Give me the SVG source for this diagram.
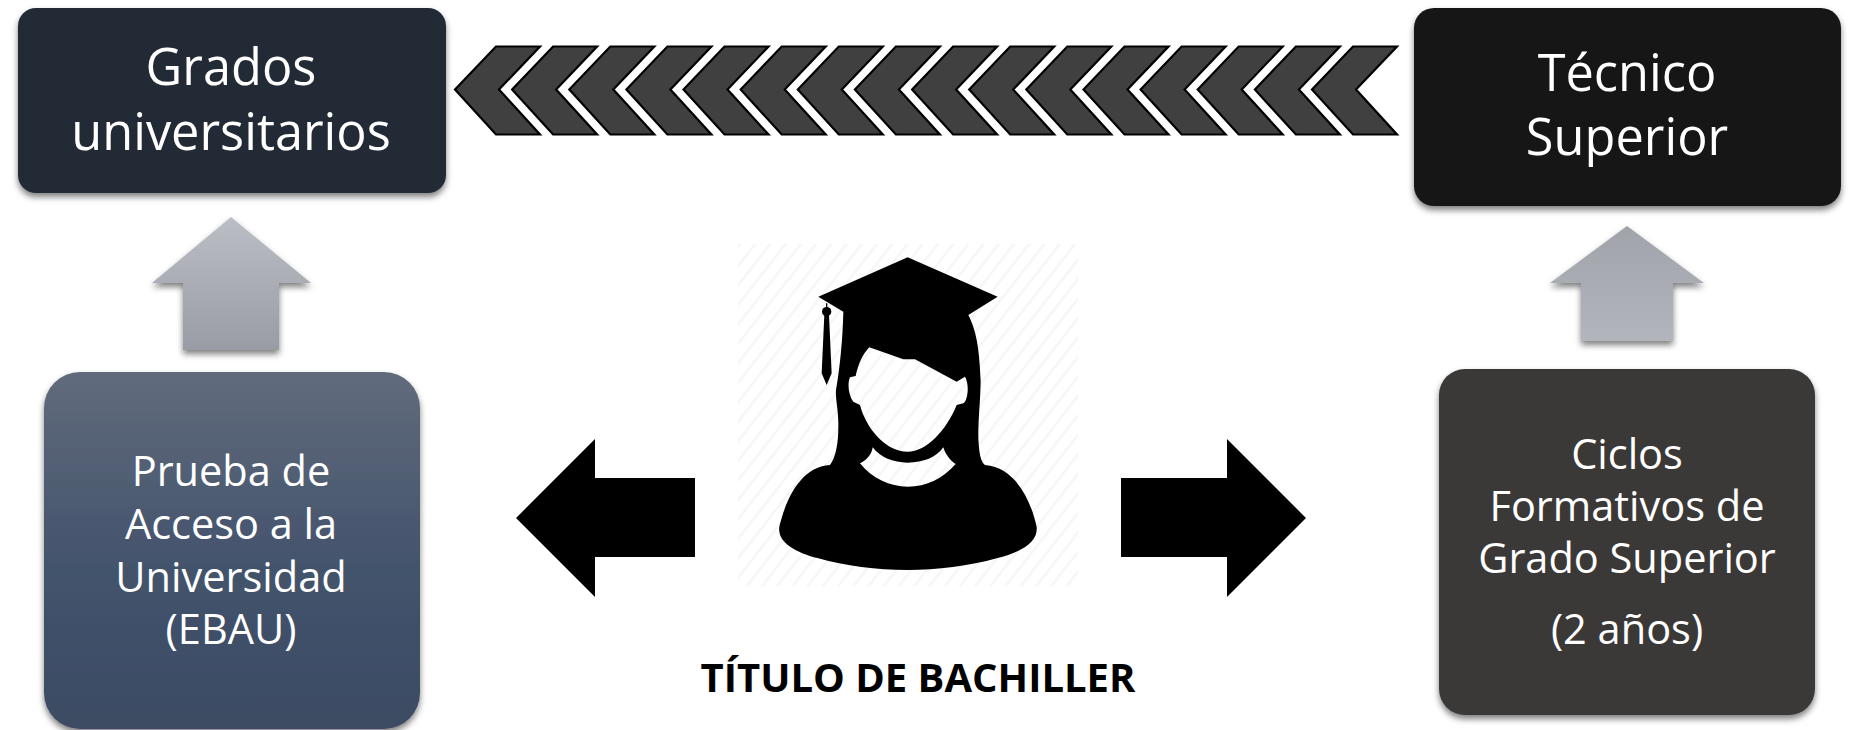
<svg xmlns="http://www.w3.org/2000/svg" xmlns:xlink="http://www.w3.org/1999/xlink" width="1850" height="730" viewBox="0 0 1850 730">
<style>
text{font-family:"Open Sans","Noto Sans","DejaVu Sans",sans-serif;text-anchor:middle}
.w{fill:#fff}
.sm{font-size:41.5px}
.lg{font-size:50.5px}
.chev{fill:#404040;stroke:#000;stroke-width:2.2;stroke-linejoin:miter}
</style>
<defs>
<filter id="sh" x="-10%" y="-10%" width="120%" height="125%"><feDropShadow dx="0" dy="4" stdDeviation="3" flood-color="#000" flood-opacity="0.5"/></filter>
<linearGradient id="gBlue" x1="0" y1="0" x2="0" y2="1"><stop offset="0" stop-color="#616b7c"/><stop offset="0.55" stop-color="#43536c"/><stop offset="1" stop-color="#3c4b63"/></linearGradient>
<linearGradient id="gUpL" x1="0" y1="0" x2="0" y2="1"><stop offset="0" stop-color="#bcbec6"/><stop offset="1" stop-color="#999ca4"/></linearGradient>
<linearGradient id="gUpR" x1="0" y1="0" x2="0" y2="1"><stop offset="0" stop-color="#a0a3aa"/><stop offset="1" stop-color="#b3b5bd"/></linearGradient>
<pattern id="hatch" width="12" height="12" patternUnits="userSpaceOnUse" patternTransform="rotate(38)"><rect width="12" height="12" fill="#fff"/><rect width="2.5" height="12" fill="#f6f6f6"/></pattern>
<polygon id="ch" class="chev" points="0,43 41,0 85,0 44,43 85,88 41,88"/>
</defs>
<rect width="1850" height="730" fill="#fff"/>
<g id="connectors">
<g id="chevrons">
<use href="#ch" x="455" y="46.5"/><use href="#ch" x="512.1" y="46.5"/><use href="#ch" x="569.3" y="46.5"/><use href="#ch" x="626.4" y="46.5"/>
<use href="#ch" x="683.5" y="46.5"/><use href="#ch" x="740.7" y="46.5"/><use href="#ch" x="797.8" y="46.5"/><use href="#ch" x="854.9" y="46.5"/>
<use href="#ch" x="912.1" y="46.5"/><use href="#ch" x="969.2" y="46.5"/><use href="#ch" x="1026.3" y="46.5"/><use href="#ch" x="1083.5" y="46.5"/>
<use href="#ch" x="1140.6" y="46.5"/><use href="#ch" x="1197.7" y="46.5"/><use href="#ch" x="1254.9" y="46.5"/><use href="#ch" x="1312" y="46.5"/>
</g>
<polygon id="arrow-up-left" fill="url(#gUpL)" filter="url(#sh)" points="231,217 311,283 279,283 279,350 183,350 183,283 152,283"/>
<polygon id="arrow-up-right" fill="url(#gUpR)" filter="url(#sh)" points="1627,226 1704,283 1673,283 1673,341 1581,341 1581,283 1550,283"/>
<polygon id="arrow-left" fill="#000" points="516,518 595,439 595,478 695,478 695,557 595,557 595,597"/>
<polygon id="arrow-right" fill="#000" points="1306,518 1227,439 1227,478 1121,478 1121,557 1227,557 1227,597"/>
</g>
<g id="node-grados">
<rect x="18" y="8" width="428" height="185" rx="18" fill="#222a36" filter="url(#sh)"/>
<text class="w lg" x="231" y="85">Grados</text>
<text class="w lg" x="231" y="150">universitarios</text>
</g>
<g id="node-tecnico">
<rect x="1414" y="8" width="427" height="198" rx="20" fill="#191919" filter="url(#sh)"/>
<text class="w lg" x="1627" y="91">Técnico</text>
<text class="w lg" x="1627" y="155">Superior</text>
</g>
<g id="node-prueba">
<rect x="44" y="372" width="376" height="357" rx="36" fill="url(#gBlue)" filter="url(#sh)"/>
<text class="w sm" x="231" y="486">Prueba de</text>
<text class="w sm" x="231" y="539">Acceso a la</text>
<text class="w sm" x="231" y="592">Universidad</text>
<text class="w sm" x="231" y="644">(EBAU)</text>
</g>
<g id="node-ciclos">
<rect x="1439" y="369" width="376" height="346" rx="26" fill="#3a3938" filter="url(#sh)"/>
<text class="w sm" x="1627" y="469">Ciclos</text>
<text class="w sm" x="1627" y="521">Formativos de</text>
<text class="w sm" x="1627" y="573">Grado Superior</text>
<text class="w sm" x="1627" y="644">(2 años)</text>
</g>
<g id="node-graduate">
<rect x="738" y="244" width="340" height="342" fill="url(#hatch)"/>
<g transform="translate(730 240) scale(0.3333)" fill="#000">
<path fill-rule="evenodd" d="M533,52 L803,170 L715,225 C738,270 748,320 752,420 C752,480 742,560 746,610 C748,640 752,665 765,675 C860,682 905,790 920,860 C925,905 880,935 800,955 C720,978 620,990 533,990 C440,990 345,978 265,955 C190,935 142,905 148,860 C165,790 205,682 300,675 C318,650 325,610 325,560 C326,510 316,480 318,450 C330,380 338,300 340,215 L265,170 Z M418,322 L520,358 L555,358 L680,425 L705,410 C718,430 715,480 700,490 L680,495 C650,570 590,635 533,635 C470,635 410,570 390,495 L370,485 C355,465 352,430 360,412 L377,408 C385,370 400,340 418,322 Z M428,622 C450,652 490,668 533,668 C580,668 620,652 640,622 C645,640 660,662 677,672 C640,715 590,740 533,740 C480,740 425,715 390,670 C410,660 425,645 428,622 Z"/>
<circle cx="290" cy="215" r="14"/>
<path d="M288,190 L292,190 L292,205 L288,205 Z M283,225 L297,225 L305,400 L290,435 L275,400 Z"/>
</g>
<text x="918" y="692" font-size="40" font-weight="700" fill="#000">TÍTULO DE BACHILLER</text>
</g>
</svg>
